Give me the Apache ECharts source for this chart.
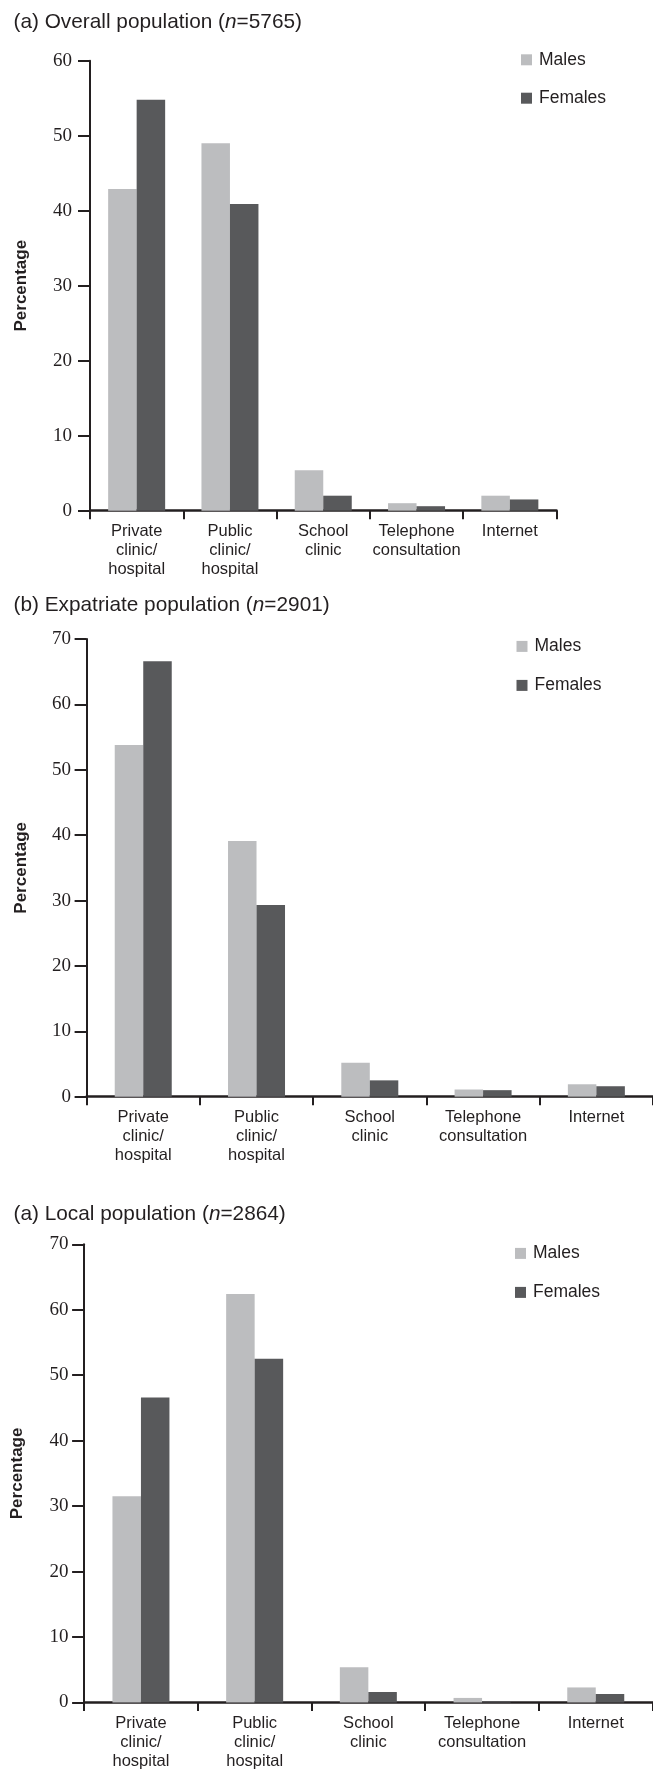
<!DOCTYPE html>
<html>
<head>
<meta charset="utf-8">
<script src="https://cdn.jsdelivr.net/npm/echarts@6/dist/echarts.min.js"></script>
<style>
  html, body { margin: 0; padding: 0; background: #ffffff; }
  #chart { width: 653px; height: 1771px; }
</style>
</head>
<body>
<div id="chart"></div>
<script>
// ---- Data ----
const categories = ['Private\nclinic/\nhospital', 'Public\nclinic/\nhospital', 'School\nclinic', 'Telephone\nconsultation', 'Internet'];
const seriesNames = ['Males', 'Females'];
const panelTitles = [
  '(a) Overall population ({i|n}=5765)',
  '(b) Expatriate population ({i|n}=2901)',
  '(a) Local population ({i|n}=2864)'
];
const overallMales   = [42.9, 49.0, 5.4, 1.0, 2.0];
const overallFemales = [54.8, 40.9, 2.0, 0.6, 1.5];
const expatMales     = [53.8, 39.1, 5.2, 1.1, 1.9];
const expatFemales   = [66.6, 29.3, 2.5, 1.0, 1.6];
const localMales     = [31.5, 62.4, 5.4, 0.7, 2.3];
const localFemales   = [46.6, 52.5, 1.6, 0.2, 1.3];
const yMaxes = [60, 70, 70];
const yInterval = 10;
const yAxisName = 'Percentage';

// ---- Layout / style ----
const panelData = [[overallMales, overallFemales], [expatMales, expatFemales], [localMales, localFemales]];
const grids = [
  { left: 90,   top: 60.7,   width: 466.5, height: 450 },
  { left: 86.6, top: 639,    width: 568.5, height: 457.7 },
  { left: 84.1, top: 1244.3, width: 568.5, height: 459 }
];
const titleTops = [10.5, 593, 1202.5];
const legendPos = [
  { left: 521,   top: 50.8,   itemGap: 20.4 },
  { left: 516.5, top: 637.4,  itemGap: 21 },
  { left: 515,   top: 1244.4, itemGap: 21 }
];
const yLabelMargins = [18, 15.5, 15.5];
const yNameGaps = [60, 57, 58];
const colors = ['#bcbdbf', '#58595b'];
const ink = '#231f20';
const sans = '"Liberation Sans", Arial, sans-serif';
const serif = '"Liberation Serif", "Times New Roman", serif';

const option = {
  animation: false,
  backgroundColor: '#ffffff',
  title: panelTitles.map((t, i) => ({
    text: t,
    left: 13.5,
    top: titleTops[i],
    padding: 0,
    textStyle: {
      fontFamily: sans, fontSize: 20.8, fontWeight: 'normal', color: ink, lineHeight: 24,
      rich: { i: { fontFamily: sans, fontSize: 20.8, fontStyle: 'italic', color: ink, lineHeight: 24 } }
    }
  })),
  legend: legendPos.map((p) => ({
    data: seriesNames,
    orient: 'vertical',
    left: p.left,
    top: p.top,
    itemGap: p.itemGap,
    padding: 0,
    icon: 'rect',
    itemWidth: 11,
    itemHeight: 11,
    selectedMode: false,
    textStyle: { fontFamily: sans, fontSize: 17.5, color: ink, lineHeight: 17, padding: [0, 0, 0, 2] }
  })),
  grid: grids.map(g => Object.assign({ containLabel: false }, g)),
  xAxis: grids.map((g, i) => ({
    type: 'category',
    gridIndex: i,
    data: categories,
    axisLine: { show: true, lineStyle: { color: ink, width: 2.5 } },
    axisTick: { show: true, length: 8.5, lineStyle: { color: ink, width: 2 }, alignWithLabel: false },
    axisLabel: { color: ink, fontFamily: sans, fontSize: 16.5, lineHeight: 19, margin: 11.5, interval: 0 },
    splitLine: { show: false }
  })),
  yAxis: grids.map((g, i) => ({
    type: 'value',
    gridIndex: i,
    min: 0,
    max: yMaxes[i],
    interval: yInterval,
    name: yAxisName,
    nameLocation: 'middle',
    nameRotate: 90,
    nameGap: yNameGaps[i],
    nameTextStyle: { fontFamily: sans, fontSize: 17, fontWeight: 'bold', color: ink },
    axisLine: { show: true, lineStyle: { color: ink, width: 2 } },
    axisTick: { show: true, length: 12, lineStyle: { color: ink, width: 2 } },
    axisLabel: { color: ink, fontFamily: serif, fontSize: 19, margin: yLabelMargins[i], padding: [0, 0, 6, 0] },
    splitLine: { show: false }
  })),
  series: []
};

panelData.forEach((pair, i) => {
  pair.forEach((vals, k) => {
    option.series.push({
      type: 'bar',
      name: seriesNames[k],
      xAxisIndex: i,
      yAxisIndex: i,
      data: vals,
      barWidth: 28.5,
      barGap: '0%',
      itemStyle: { color: colors[k] },
      emphasis: { disabled: true }
    });
  });
});

const chart = echarts.init(document.getElementById('chart'), null, { renderer: 'canvas' });
chart.setOption(option);
</script>
</body>
</html>
